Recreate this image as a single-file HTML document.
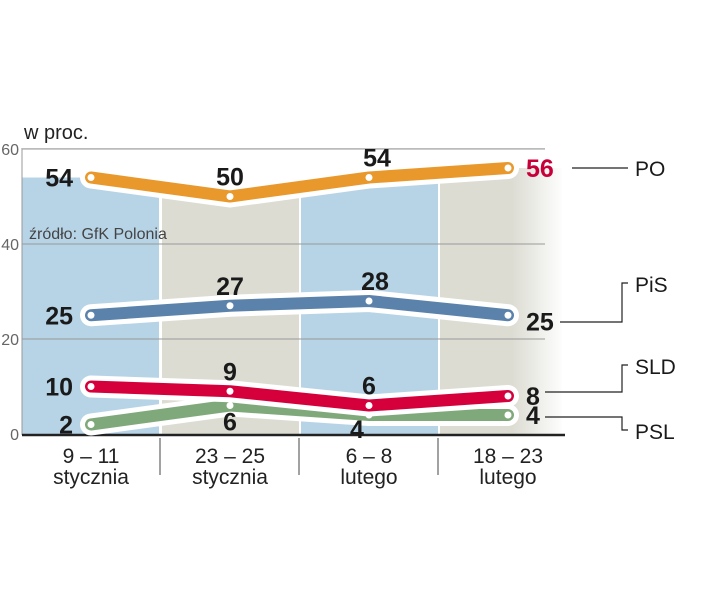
<!DOCTYPE html>
<html><head><meta charset="utf-8"><style>
body{margin:0;background:#fff;}
svg{display:block;font-family:"Liberation Sans",sans-serif;}
</style></head><body>
<svg id="chart" width="720" height="598" viewBox="0 0 720 598">
<defs>
<linearGradient id="fade" x1="0" x2="1" y1="0" y2="0">
<stop offset="0" stop-color="#fff" stop-opacity="0"/><stop offset="1" stop-color="#fff" stop-opacity="1"/>
</linearGradient>
</defs>
<g id="bg"></g>
<g id="grid"></g>
<g id="lines"></g>
<g id="labels"></g>
<g id="legend"></g>
</svg>
<script>
const categories=["9 – 11|stycznia","23 – 25|stycznia","6 – 8|lutego","18 – 23|lutego"];
const seriesNames=["PO","PiS","SLD","PSL"];
const po=[54,50,54,56];
const pis=[25,27,28,25];
const sld=[10,9,6,8];
const psl=[2,6,4,4];
const yTicks=[0,20,40,60];
const NS="http://www.w3.org/2000/svg";
function y(v){return 434-v*4.75;}
function cx(i){return 91+i*139;}
function mk(tag,attrs,parent,text){const e=document.createElementNS(NS,tag);for(const k in attrs)e.setAttribute(k,attrs[k]);if(text!==undefined)e.textContent=text;parent.appendChild(e);return e;}
const bg=document.getElementById('bg'),grid=document.getElementById('grid'),lines=document.getElementById('lines'),labels=document.getElementById('labels'),legend=document.getElementById('legend');
const cols=["#b7d4e7","#dcdcd3","#b7d4e7","#dcdcd3"];
po.forEach((v,i)=>{
 const x0=22+i*139+(i>0?1:0);
 const r=mk('rect',{x:x0,y:y(v),width:i===3?122:137,height:434-y(v),fill:cols[i]},bg);
 
 
});
const fr=mk('rect',{x:512,y:140,width:52,height:300,fill:'url(#fade)'},bg);


yTicks.forEach(t=>{
 if(t>0){const l=mk('line',{x1:22,x2:545,y1:y(t),y2:y(t),stroke:'#999','stroke-width':1},grid);
 
 }
 const tx=mk('text',{x:19,y:y(t)+6,'text-anchor':'end','font-size':16,fill:'#666'},grid,t);
 
 
});
const ya=mk('line',{x1:22,x2:22,y1:148,y2:435,stroke:'#999','stroke-width':1},grid);


const xa=mk('line',{x1:22,x2:565,y1:435,y2:435,stroke:'#222','stroke-width':2.5},grid);


const tl=mk('line',{x1:22,x2:545,y1:148.5,y2:148.5,stroke:'#bbb','stroke-width':1},grid);


const unit=mk('text',{x:24,y:139,'font-size':20,fill:'#222'},grid,'w proc.');


const src=mk('text',{x:29,y:239,'font-size':16,fill:'#444'},grid,'źródło: GfK Polonia');


categories.forEach((c,i)=>{
 const [a,b]=c.split('|');
 const t1=mk('text',{x:cx(i),y:463,'text-anchor':'middle','font-size':21,fill:'#222'},labels,a);
 
 
 const t2=mk('text',{x:cx(i),y:484,'text-anchor':'middle','font-size':21,fill:'#222'},labels,b);
 
 
 if(i>0){const s=mk('line',{x1:22+i*139-1,x2:22+i*139-1,y1:438,y2:475,stroke:'#444','stroke-width':1},labels);
 
 }
});
const series=[
 {name:'psl',vals:psl,color:'#80a97b'},
 {name:'sld',vals:sld,color:'#d5003b'},
 {name:'pis',vals:pis,color:'#5a82aa'},
 {name:'po',vals:po,color:'#e9982b'}
];
series.forEach(s=>{
 const pts=s.vals.map((v,i)=>cx(i)+','+y(v)).join(' ');
 const o=mk('polyline',{points:pts,fill:'none',stroke:'#fff','stroke-width':22,'stroke-linejoin':'round','stroke-linecap':'round'},lines);
 
 
 const l=mk('polyline',{points:pts,fill:'none',stroke:s.color,'stroke-width':12,'stroke-linejoin':'round','stroke-linecap':'round'},lines);
 
 
 s.vals.forEach((v,i)=>{
  const c=mk('circle',{cx:cx(i),cy:y(v),r:3.5,fill:'#fff'},lines);
  
  
 });
});
series.forEach(s=>{
 s.vals.forEach((v,i)=>{
  let x=cx(i),yy=y(v),anchor='middle';
  if(i===0){x=cx(0)-18;anchor='end';yy+=9;}
  else if(i===3){x=cx(3)+18;anchor='start';yy+=9+(s.name==='pis'?6:0);}
  else if(s.name==='psl'){yy+=25;}
  else {yy-=11;}
  if(s.name==='psl'&&i===2){x=cx(2)-12;yy=y(v)+23;}
  if(s.name==='po'&&i===2){x=cx(2)+8;}
  if(s.name==='pis'&&i===2){x=cx(2)+6;}
  const fill=(s.name==='po'&&i===3)?'#c8003a':'#1a1a1a';
  const t=mk('text',{x:x,y:yy,'text-anchor':anchor,'font-size':25,'font-weight':'bold',fill:fill},labels,v);
  
  
 });
});
const leg=[
 {n:'PO',d:'M572 168 H628',ty:176},
 {n:'PiS',d:'M560 322 H622 V283 H628',ty:292},
 {n:'SLD',d:'M545 392 H622 V365 H628',ty:374},
 {n:'PSL',d:'M545 417 H622 V430 H628',ty:439}
];
leg.forEach(g=>{
 const p=mk('path',{d:g.d,fill:'none',stroke:'#222','stroke-width':1.2},legend);
 
 
 const t=mk('text',{x:635,y:g.ty,'font-size':21,fill:'#1a1a1a'},legend,g.n);
 
 
});
</script>
</body></html>
